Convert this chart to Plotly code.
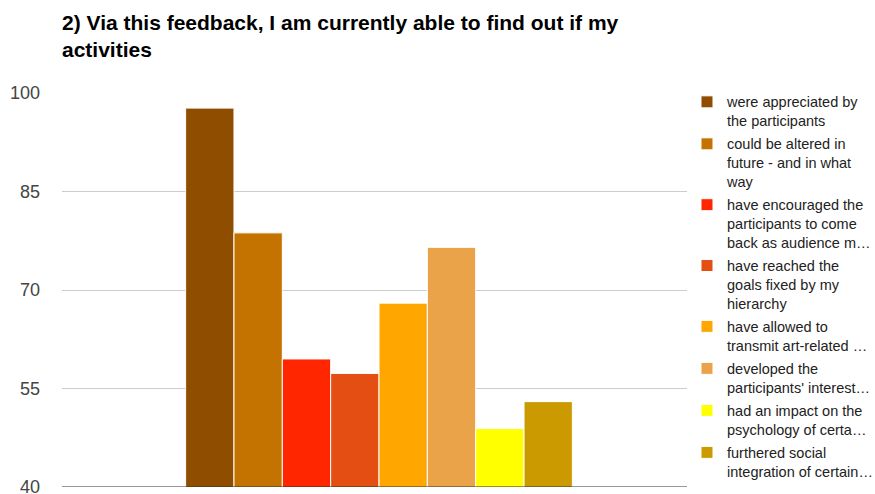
import plotly.graph_objects as go

title_text = "2) Via this feedback, I am currently able to find out if my<br>activities"
series_names = [
    "were appreciated by<br>the participants",
    "could be altered in<br>future - and in what<br>way",
    "have encouraged the<br>participants to come<br>back as audience m…",
    "have reached the<br>goals fixed by my<br>hierarchy",
    "have allowed to<br>transmit art-related …",
    "developed the<br>participants' interest…",
    "had an impact on the<br>psychology of certa…",
    "furthered social<br>integration of certain…",
]
values = [97.7, 78.7, 59.5, 57.3, 68.0, 76.5, 48.9, 53.0]
colors = ["#8F4D00", "#C57300", "#FF2600", "#E44E12", "#FFA600", "#EBA34A", "#FFFF00", "#CA9A00"]
category = [""]
y_ticks = [40, 55, 70, 85, 100]

fig = go.Figure()
for i, (name, v, c) in enumerate(zip(series_names, values, colors)):
    fig.add_trace(go.Bar(x=category, y=[v], name=name, legendgroup=f"g{i}",
                         marker=dict(color=c, line=dict(color="white", width=1))))

fig.update_layout(
    width=875, height=494,
    margin=dict(l=62, r=179, t=93, b=7, autoexpand=False),
    paper_bgcolor="white", plot_bgcolor="white",
    barmode="group", bargap=0.39, bargroupgap=0,
    title=dict(text=title_text, x=62/875, xanchor="left", y=1-30/494, yanchor="top",
               font=dict(family="Liberation Sans, Arial", size=21, color="#000", weight="bold")),
    font=dict(family="Liberation Sans, Arial"),
    xaxis=dict(showticklabels=False, showgrid=False, zeroline=False, showline=False, ticks=""),
    yaxis=dict(range=[40, 100], tickvals=y_ticks, ticktext=[str(t) for t in y_ticks],
               showgrid=True, gridcolor="#CCCCCC", gridwidth=1, zeroline=False,
               tickfont=dict(family="Liberation Sans, Arial", size=18, color="#444"),
               ticks="", ticklabelstandoff=21, ticklabeloverflow="allow"),
    legend=dict(x=0.9858, xanchor="left", y=1.018, yanchor="top", valign="top",
                font=dict(family="Liberation Sans, Arial", size=14.5, color="#222"),
                tracegroupgap=1.3, traceorder="grouped", maxheight=1.0),
    showlegend=True,
)
fig.add_shape(type="line", xref="paper", yref="y", x0=0, x1=1, y0=40, y1=40,
              line=dict(color="#333333", width=1))
fig.write_html("out.html")
